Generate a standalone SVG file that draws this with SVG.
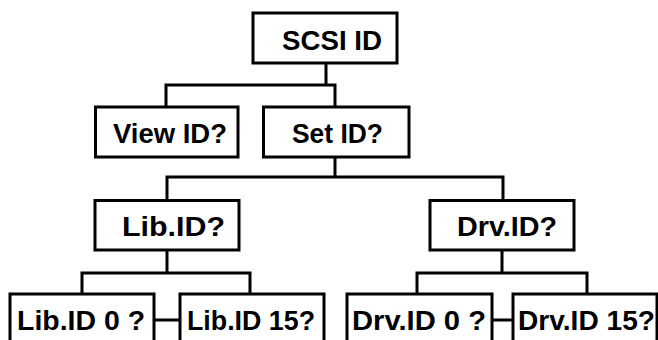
<svg xmlns="http://www.w3.org/2000/svg" width="658" height="340" viewBox="0 0 658 340">
<style>
.box{fill:#fff;stroke:#000;stroke-width:3}
.t{font-family:"Liberation Sans",Arial,sans-serif;font-weight:bold;font-size:28px;fill:#000}
.c{fill:none;stroke:#000;stroke-width:3}
</style>
<rect width="658" height="340" fill="#fff"/>
<g id="connectors">
<path class="c" d="M326 63V85M166 107V85H335V107"/>
<path class="c" d="M335 157V177M167 200V177H503V200"/>
<path class="c" d="M167 250V273M82 294V273H250V294"/>
<path class="c" d="M502 250V273M417 294V273H587V294"/>
<path class="c" d="M154 320H180M492 320H513"/>
</g>
<g id="scsi"><rect class="box" x="253" y="13" width="144" height="50"/><text class="t" x="282" y="50" textLength="100" lengthAdjust="spacingAndGlyphs">SCSI ID</text></g>
<g id="view"><rect class="box" x="95.5" y="107" width="142.5" height="50"/><text class="t" x="113" y="143" textLength="114" lengthAdjust="spacingAndGlyphs">View ID?</text></g>
<g id="set"><rect class="box" x="263.5" y="107" width="145.5" height="50"/><text class="t" x="292" y="143" textLength="91" lengthAdjust="spacingAndGlyphs">Set ID?</text></g>
<g id="lib"><rect class="box" x="95" y="200.5" width="144" height="49.5"/><text class="t" x="122" y="236" textLength="103" lengthAdjust="spacingAndGlyphs">Lib.ID?</text></g>
<g id="drv"><rect class="box" x="430" y="200.5" width="144" height="49.5"/><text class="t" x="457" y="236" textLength="100" lengthAdjust="spacingAndGlyphs">Drv.ID?</text></g>
<g id="lib0"><rect class="box" x="10" y="294" width="144" height="60"/><text class="t" x="17" y="330" textLength="128" lengthAdjust="spacingAndGlyphs">Lib.ID 0 ?</text></g>
<g id="lib15"><rect class="box" x="180" y="294" width="144" height="60"/><text class="t" x="187" y="330" textLength="128" lengthAdjust="spacingAndGlyphs">Lib.ID 15?</text></g>
<g id="drv0"><rect class="box" x="347" y="294" width="145" height="60"/><text class="t" x="352" y="330" textLength="134" lengthAdjust="spacingAndGlyphs">Drv.ID 0 ?</text></g>
<g id="drv15"><rect class="box" x="513" y="294" width="144" height="60"/><text class="t" x="518" y="330" textLength="137" lengthAdjust="spacingAndGlyphs">Drv.ID 15?</text></g>
</svg>
